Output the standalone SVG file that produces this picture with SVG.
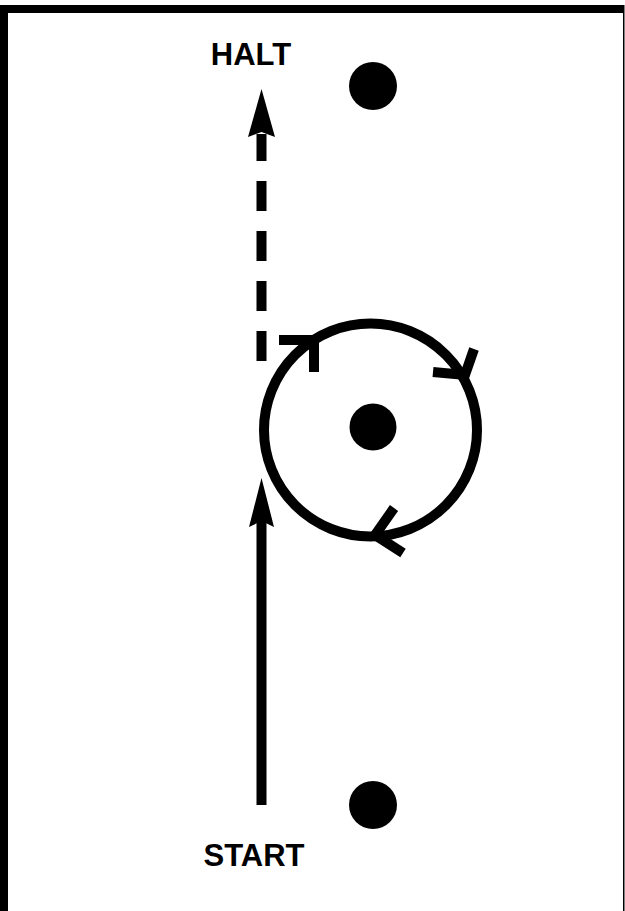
<svg xmlns="http://www.w3.org/2000/svg" width="625" height="911" viewBox="0 0 625 911">
  <style>
    .lbl { font-family: "Liberation Sans", Arial, sans-serif; font-weight: bold; font-size: 31px; fill: #000; text-anchor: middle; }
    .dot { fill: #000; }
    .stroke { fill: none; stroke: #000; stroke-width: 10; }
    .barb { fill: none; stroke: #000; stroke-width: 10; stroke-linejoin: miter; stroke-linecap: butt; }
  </style>
  <rect x="0" y="0" width="625" height="911" fill="#fff"/>
  <g id="frame">
    <rect x="0" y="5" width="8" height="906" fill="#000"/>
    <rect x="0" y="5" width="624" height="8" fill="#000"/>
    <rect x="623" y="5" width="1.5" height="906" fill="#000"/>
  </g>
  <g id="halt-label"><text class="lbl" x="251" y="65">HALT</text></g>
  <g id="start-label"><text class="lbl" x="254" y="866">START</text></g>
  <g id="dot-top"><circle class="dot" cx="373" cy="86" r="24"/></g>
  <g id="dot-center"><circle class="dot" cx="373" cy="427" r="23.5"/></g>
  <g id="dot-bottom"><circle class="dot" cx="373" cy="805" r="24"/></g>
  <g id="loop">
    <circle class="stroke" cx="370.5" cy="430" r="106.5"/>
    <polyline class="barb" points="279,340 314,340 314,372"/>
    <polyline class="barb" points="433,372 465,375 474,349"/>
    <polyline class="barb" points="394,508 375,535 403,553"/>
  </g>
  <g id="connectors">
    <line class="stroke" x1="261.5" y1="805" x2="261.5" y2="520"/>
    <polygon points="261.5,478 274,527 261.5,521 249,527" fill="#000"/>
    <line class="stroke" x1="261.5" y1="361" x2="261.5" y2="134" stroke-dasharray="30 20"/>
    <polygon points="261.5,89 275,137 261.5,132 248,137" fill="#000"/>
  </g>
</svg>
